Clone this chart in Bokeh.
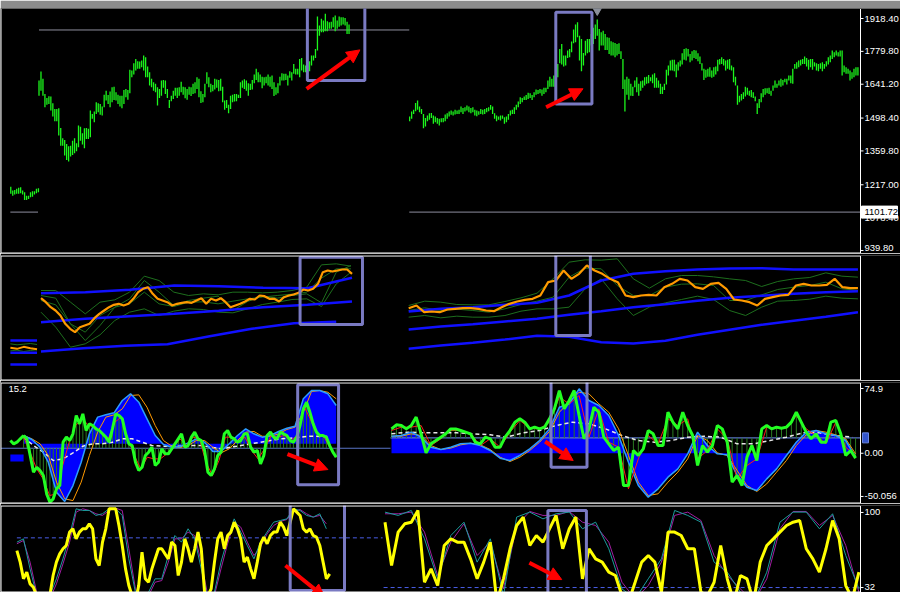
import numpy as np
from bokeh.plotting import figure
from bokeh.layouts import column
from bokeh.models import Range1d, Arrow, NormalHead, Label
from bokeh.embed import file_html
from bokeh.resources import INLINE

# ---------------- DATA (x unit = bar index) ----------------
# Panel 1 : price bars (high / low)
LEFT_START = 19.5
LEFT_HIGH = [1657,1695,1664,1600,1583,1590,1589,1561,1537,1537,
             1540,1457,1413,1406,1389,1380,1382,1403,1413,1392,
             1467,1462,1434,1455,1457,1453,1530,1516,1526,1565,
             1561,1558,1547,1597,1614,1596,1610,1628,1631,1607,
             1597,1593,1593,1617,1621,1617,1702,1699,1730,1748,
             1738,1737,1741,1762,1755,1716,1692,1664,1650,1643,
             1628,1621,1657,1659,1657,1621,1575,1593,1614,1626,
             1626,1628,1652,1631,1628,1621,1631,1628,1643,1650,
             1671,1664,1612,1600,1643,1692,1671,1643,1638,1664,
             1661,1659,1664,1631,1572,1575,1555,1593,1597,1600,
             1600,1597,1650,1657,1662,1657,1645,1643,1659,1682,
             1706,1692,1682,1673,1671,1673,1682,1673,1678,1650,
             1628,1645,1673,1687,1685,1685,1678,1696,1692,1727,
             1706,1706,1748,1752,1724,1720,1734,1738,1762,1762,
             1790,1927,1889,1917,1910,1938,1907,1903,1905,1924,
             1931,1910,1927,1924,1924,1921,1905,1893]
LEFT_LOW = [1593,1614,1593,1544,1555,1558,1530,1505,1485,1485,
            1425,1382,1382,1340,1322,1315,1336,1343,1350,1358,
            1375,1403,1387,1371,1410,1410,1417,1495,1481,1516,
            1523,1512,1509,1544,1572,1558,1544,1565,1575,1572,
            1558,1547,1540,1558,1586,1576,1603,1671,1682,1699,
            1706,1706,1713,1699,1671,1671,1636,1628,1614,1607,
            1551,1583,1593,1626,1600,1583,1541,1569,1579,1593,
            1583,1593,1607,1597,1582,1576,1597,1591,1600,1603,
            1621,1586,1562,1565,1586,1643,1628,1607,1612,1619,
            1626,1612,1614,1565,1533,1541,1519,1537,1565,1568,
            1569,1583,1583,1626,1621,1614,1593,1617,1619,1645,
            1659,1650,1650,1624,1636,1645,1636,1631,1621,1591,
            1597,1603,1636,1657,1657,1659,1636,1668,1657,1685,
            1682,1682,1671,1699,1692,1692,1713,1696,1720,1741,
            1752,1783,1846,1860,1860,1865,1865,1875,1875,1882,
            1865,1875,1884,1889,1893,1889,1853,1853]
RIGHT_START = 207.2
RIGHT_HIGH = [1505,1526,1533,1562,1572,1547,1537,1516,1499,1509,
              1519,1520,1509,1505,1499,1495,1498,1499,1513,1519,
              1526,1530,1526,1534,1530,1534,1547,1541,1544,1551,
              1547,1541,1544,1533,1530,1527,1537,1533,1537,1541,
              1544,1554,1547,1519,1509,1505,1509,1509,1502,1505,
              1516,1530,1534,1544,1555,1568,1586,1583,1589,1596,
              1605,1603,1596,1607,1619,1617,1621,1619,1626,1626,
              1657,1673,1664,1678,1682,1727,1790,1811,1762,1762,
              1783,1790,1821,1872,1893,1903,1846,1832,1773,1825,
              1832,1832,1853,1879,1893,1914,1874,1860,1867,1853,
              1839,1837,1822,1818,1815,1811,1814,1780,1748,1661,
              1673,1664,1643,1631,1657,1671,1643,1654,1657,1671,
              1673,1680,1671,1682,1687,1668,1657,1643,1631,1643,
              1702,1720,1741,1744,1744,1724,1734,1741,1772,1790,
              1793,1790,1769,1780,1786,1783,1772,1758,1730,1706,
              1702,1706,1713,1699,1713,1716,1744,1748,1755,1748,
              1741,1744,1748,1720,1713,1673,1636,1593,1600,1607,
              1631,1626,1614,1617,1607,1589,1561,1579,1603,1621,
              1624,1624,1626,1614,1636,1657,1643,1657,1664,1659,
              1664,1664,1678,1678,1706,1727,1734,1741,1744,1748,
              1758,1752,1744,1748,1748,1734,1730,1727,1730,1734,
              1727,1738,1755,1762,1783,1776,1783,1776,1783,1783,
              1720,1713,1706,1699,1692,1706,1713,1713]
RIGHT_LOW = [1485,1495,1516,1527,1533,1523,1516,1455,1463,1485,
             1491,1499,1474,1481,1474,1467,1481,1481,1485,1495,
             1505,1512,1509,1513,1516,1516,1523,1516,1526,1530,
             1523,1519,1523,1509,1506,1512,1516,1513,1516,1523,
             1527,1533,1516,1495,1485,1491,1488,1495,1474,1481,
             1491,1509,1516,1516,1533,1544,1558,1565,1575,1575,
             1579,1583,1575,1586,1597,1600,1603,1593,1600,1607,
             1621,1631,1631,1631,1636,1671,1730,1724,1716,1720,
             1752,1755,1776,1814,1818,1839,1741,1696,1720,1762,
             1772,1776,1804,1811,1832,1846,1783,1804,1804,1786,
             1786,1769,1762,1762,1755,1762,1769,1748,1621,1526,
             1597,1576,1593,1591,1628,1607,1593,1614,1626,1636,
             1643,1645,1654,1645,1626,1626,1626,1600,1600,1617,
             1640,1678,1699,1699,1696,1671,1699,1716,1724,1744,
             1741,1758,1734,1741,1752,1748,1738,1727,1699,1659,
             1668,1673,1673,1668,1673,1682,1696,1724,1727,1720,
             1699,1706,1702,1699,1650,1636,1555,1565,1572,1579,
             1589,1597,1593,1586,1583,1569,1516,1541,1565,1586,
             1597,1603,1600,1593,1614,1626,1626,1636,1631,1636,
             1650,1640,1657,1645,1643,1706,1706,1713,1720,1727,
             1727,1716,1702,1713,1702,1716,1699,1696,1706,1696,
             1706,1716,1724,1734,1748,1755,1762,1758,1758,1678,
             1692,1685,1685,1657,1664,1671,1678,1678]
CHUNK_START = 5.2
CHUNK_HIGH = [1209,1193,1195,1200,1204,1207,1193,1186,1171,1171,1186,1190,1190,1200,1202]
CHUNK_LOW = [1179,1171,1176,1179,1179,1181,1176,1153,1153,1157,1164,1167,1176,1181,1186]
P1_TICKS = [939.8, 1078.4, 1217.0, 1359.8, 1498.4, 1641.2, 1779.8, 1918.4]
P1_LABELS = ["939.80", "1078.40", "1217.00", "1359.80", "1498.40", "1641.20", "1779.80", "1918.40"]
LEVEL_TOP = 1870.0
LEVEL_CUR = 1101.72
LEVEL_CUR_LABEL = "1101.72"

# Panel 2 : envelope indicator (arbitrary units)
P2L_ORANGE = [262,250,235,225,210,185,170,160,175,180,185,202,215,225,235,242,245,240,245,260,
              280,290,295,275,260,255,250,240,245,248,250,248,255,262,245,260,255,262,250,235,
              240,245,252,260,258,270,268,260,260,252,265,270,273,278,288,285,290,305,340,345,
              342,345,348,348,335]
P2L_UP = [285,285,250,215,250,257,280,328,315,280,270,275,272,280,280,278,280,285,295,362,365,358]
P2L_LO = [220,175,115,125,152,195,220,230,210,223,230,228,220,218,230,243,250,258,260,237,305,340]
P2L_M1 = [255,242,185,160,210,235,245,280,245,237,250,251,245,253,260,265,270,274,280,322,350,350]
P2L_M2 = [270,262,185,135,180,235,260,315,280,240,255,262,268,225,252,268,262,270,275,248,340,360]
P2L_BTOP = [277,280,287,300,298,293,292,323]
P2L_BMID = [190,200,208,215,224,235,242,252]
P2L_BLOW = [102,112,119,124,148,170,187,191]
P2R_ORANGE = [232,240,220,222,220,228,230,232,232,230,225,223,235,245,252,257,260,270,310,315,
              345,320,335,360,345,335,320,310,270,265,270,272,270,295,305,320,315,295,290,305,
              308,290,258,255,250,240,260,265,270,272,300,305,300,300,302,320,295,292,292]
P2R_UP = [240,253,250,243,242,242,252,263,277,320,370,377,376,380,320,292,320,330,330,326,
          320,315,297,312,320,324,338,328,325]
P2R_LO = [205,210,203,208,205,205,210,223,230,230,235,290,320,260,210,235,248,258,268,258,
          225,210,235,253,255,259,268,262,260]
P2R_MID = [225,233,225,229,225,220,230,243,253,265,325,352,350,300,270,270,295,304,305,300,
           255,255,272,288,295,300,310,290,285]
P2R_BTOP = [222,230,235,242,248,270,315,335,343,348,351,352,348,348,348]
P2R_BMID = [168,177,184,192,200,212,223,235,244,254,263,269,275,280,283]
P2R_BLOW = [110,120,128,138,149,146,130,126,134,152,167,182,194,206,220]
P2C_BLUE = [135, 98, 63]
P2C_ORANGE = [113,110,116,112,109]
P2C_GREEN_A = [125,122,124,126,123]
P2C_GREEN_B = [104,106,102,105,107]

# Panel 3 : MACD-like oscillator
P3L_GREEN = [20.5,16.7,-2.6,-21.9,-16.2,-20.0,-25.8,-47.0,-56.7,-52.8,
             -41.2,-37.4,12.8,18.6,14.7,22.5,43.7,34.0,45.6,26.3,
             34.0,32.1,28.2,26.3,22.5,18.6,12.8,28.2,45.6,43.7,
             39.8,22.5,10.9,8.9,-10.4,-20.0,-16.2,-2.6,1.2,7.0,
             -14.2,-10.4,5.1,-0.7,-0.7,5.1,10.9,16.7,22.5,7.0,
             8.9,18.6,24.4,16.7,14.7,3.2,-21.9,-25.8,-18.1,-2.6,
             1.2,22.5,26.3,18.6,16.7,12.8,14.7,22.5,22.5,7.0,
             1.2,3.2,-12.3,-2.6,20.5,24.4,18.6,16.7,24.4,22.5,
             20.5,14.7,12.8,18.6,32.1,51.4,59.1,47.5,34.0,24.4,
             20.5,20.5,18.6,8.9,1.2,-4.6]
P3L_RED = [18.6,1.2,-18.1,-29.7,-49.0,-47.0,-14.2,12.8,32.1,39.8,
           32.1,30.2,24.4,16.7,36.0,41.8,16.7,-2.6,-18.1,-4.6,
           -6.5,-6.5,-0.7,7.0,16.7,8.9,18.6,16.7,-10.4,-25.8,
           -8.4,18.6,18.6,12.8,18.6,3.2,-6.5,5.1,20.5,18.6,
           20.5,14.7,20.5,55.3,39.8,22.5,20.5,7.0,-4.6]
P3L_CYAN = [20.5,15.9,7.0,-10.4,-45.1,-55.9,-37.4,-10.4,22.5,41.8,44.5,46.8,61.1,68.8,59.1,
            39.8,20.5,10.1,7.0,7.4,12.0,16.7,12.8,2.0,2.0,10.9,20.5,28.2,22.5,18.6,20.5,25.2,
            29.0,31.3,63.0,72.6,72.6,68.8,55.3]
P3L_ORANGE = [20.5,16.7,10.9,-2.6,-33.5,-52.8,-54.8,-33.5,-2.6,24.4,41.8,44.5,51.4,66.8,67.6,
              53.3,32.1,14.7,8.2,6.6,8.9,14.7,14.7,7.0,0.4,5.1,14.7,24.4,25.2,19.7,19.4,22.5,
              27.5,30.2,47.5,71.5,72.6,70.6,63.0]
P3L_SIGNAL = [18.6,8.9,1.2,-8.4,-6.5,0.4,8.2,10.9,10.9,12.8,16.7,16.7,12.8,8.9,8.2,8.2,8.2,
              8.9,8.9,7.0,5.1,7.0,8.9,10.9,12.8,14.7,16.7,17.4,18.6,19.8,19.4,19.4]
P3L_BASE = 10.9
P3L_LEVEL = 5.8
P3R_CYAN = [19.7,20.5,24.4,18.6,7.0,4.3,7.0,10.9,11.6,8.9,3.2,-5.7,-8.4,-2.6,5.1,14.7,28.2,
            53.3,57.2,74.6,61.1,55.3,43.7,20.5,-10.4,-37.4,-50.9,-41.2,-27.7,-18.1,-0.7,24.4,
            8.9,-0.7,-1.9,-25.8,-39.3,-43.2,-29.7,-18.1,-2.6,12.8,24.4,26.3,22.5,20.5,14.7,-4.6]
P3R_ORANGE = [19.7,19.7,22.5,20.5,8.9,4.3,5.9,9.7,11.6,9.7,4.3,-4.6,-9.6,-4.6,3.2,12.8,25.2,
              47.5,59.1,70.7,68.8,57.2,47.5,28.2,-2.6,-33.5,-49.0,-47.0,-33.5,-21.9,-6.5,20.5,
              14.7,0.4,-2.6,-20.0,-37.4,-44.3,-35.5,-21.9,-8.4,8.9,21.3,26.3,24.4,21.3,16.7,-0.7]
P3R_GREEN = [28.2,32.9,32.1,28.2,32.1,41.8,22.5,0.4,10.9,14.7,18.6,22.5,28.2,28.2,26.3,24.4,
             22.5,12.8,10.9,18.6,16.7,7.0,7.0,18.6,26.3,36.0,39.8,36.0,28.2,30.2,28.2,30.2,
             39.8,51.4,72.6,51.4,61.1,72.6,43.7,16.7,28.2,53.3,47.5,18.6,10.9,3.2,7.0,-37.4,
             -37.4,3.2,-2.6,5.1,26.3,22.5,8.9,8.9,47.5,36.0,28.2,47.5,32.1,20.5,-14.2,8.9,1.2,
             8.9,32.1,28.2,12.8,-33.5,-25.8,-37.4,-4.6,8.9,-8.4,28.2,32.1,28.2,30.2,29.0,30.2,
             36.0,47.5,36.0,24.4,16.7,22.5,12.8,12.8,36.0,37.9,22.5,-2.6,3.2,-5.7]
P3R_RED = [26.3,30.2,30.2,32.1,8.9,16.7,26.3,26.3,22.5,8.9,16.7,7.0,24.4,37.9,29.0,28.2,36.0,
           64.9,57.2,66.8,18.6,51.4,12.8,7.0,-41.2,-6.5,20.5,10.9,39.8,32.1,39.8,-6.5,3.2,28.2,
           16.7,-29.7,-14.2,-6.5,30.2,29.0,29.0,43.7,28.2,20.5,10.9,36.0,7.0,-2.6]
P3R_SIGNAL = [22.5,24.4,23.6,23.6,23.6,22.5,21.3,18.6,23.6,26.3,32.1,36.0,34.0,28.2,20.5,14.7,
              12.8,14.7,18.6,19.7,18.6,10.9,10.9,14.7,18.6,23.6,23.6,20.5,18.6]
P3R_BASE = 0.0
P3R_LEVEL = 17.8
P3C_GREEN = [14.7,10.9,12.8,16.7,20.5]
P3C_FILL = (-1.5, -9.6)
P3_TICKS = [-50.056, 0.0, 74.9]
P3_LABELS = ["-50.056", "0.00", "74.9"]
P3_CORNER = "15.2"

# Panel 4 : stochastic-like oscillator
P4L_YELLOW = [65.5,55.0,39.9,45.9,35.3,32.3,24.7,18.7,18.7,18.7,24.7,42.9,55.0,62.5,67.1,70.1,
              82.2,85.2,76.1,82.2,85.2,85.2,89.7,85.2,58.0,51.9,73.1,85.2,103.3,103.3,103.3,88.2,
              70.1,48.9,33.8,24.7,18.7,33.8,64.0,39.9,36.8,48.9,58.0,67.1,67.1,62.5,58.0,73.1,
              70.1,42.9,55.0,76.1,67.1,55.0,67.1,82.2,67.1,27.8,24.7,30.8,55.0,76.1,82.2,67.1,
              79.1,82.2,91.2,85.2,76.1,55.0,59.5,48.9,39.9,55.0,71.6,77.6,71.6,79.1,82.2,82.2,
              91.2,86.7,79.1,91.2,103.3,100.3,97.3,85.2,82.2,85.2,79.1,77.6,70.1,55.0,39.9,44.4]
P4L_TEAL = [73.1,76.1,48.9,24.7,18.7,24.7,39.9,58.0,79.1,103.3,101.8,101.8,97.3,98.8,103.3,103.3,
            97.3,58.0,27.8,21.7,27.8,39.9,39.9,61.0,79.1,73.1,85.2,76.1,48.9,21.7,27.8,55.0,
            76.1,94.2,82.2,70.1,58.0,73.1,82.2,91.2,92.7,94.2,103.3,101.8,97.3,95.8,98.8,85.2]
P4L_PURPLE = [71.6,74.6,55.0,27.8,18.1,21.7,35.3,53.4,73.1,100.3,103.3,101.8,98.8,97.3,101.8,
              103.9,101.8,67.1,30.8,20.2,24.7,36.8,38.3,55.0,76.1,76.1,82.2,79.1,55.0,24.7,24.7,
              48.9,71.6,91.2,86.7,73.1,61.0,68.6,80.6,88.2,91.8,93.6,100.3,102.7,98.8,95.8,97.3,89.7]
P4R_YELLOW = [91.2,51.9,82.2,89.7,91.2,101.8,36.8,48.9,33.8,70.1,76.1,73.1,73.1,58.0,39.9,55.0,
              73.1,18.7,39.9,67.1,88.2,95.8,70.1,79.1,73.1,85.2,97.3,67.1,85.2,95.8,39.9,67.1,
              58.0,55.0,45.9,42.9,24.7,18.7,36.8,55.0,61.0,55.0,27.8,82.2,82.2,79.1,67.1,67.1,
              27.8,24.7,36.8,70.1,39.9,18.7,42.9,39.9,18.7,55.0,70.1,76.1,82.2,88.2,91.2,92.7,
              67.1,58.0,45.9,67.1,92.7,76.1,33.8,21.7,45.9]
P4R_TEAL = [100.3,97.3,101.8,76.1,39.9,79.1,91.2,55.0,76.1,24.7,95.8,100.3,94.2,98.8,100.3,85.2,
            91.2,67.1,30.8,21.7,39.9,58.0,101.8,97.3,91.2,55.0,45.9,27.8,18.7,45.9,91.2,100.3,
            100.3,85.2,98.8,61.0,30.8]
P4R_PURPLE = [98.8,98.8,100.3,82.2,42.9,73.1,89.7,61.0,73.1,30.8,88.2,100.9,97.3,97.3,100.9,91.2,
              88.2,73.1,36.8,21.7,33.8,55.0,97.3,100.3,92.7,61.0,42.9,30.8,18.7,39.9,85.2,100.9,
              100.9,88.2,97.3,70.1,27.8]
P4L_LEVEL = 77.0
P4R_LEVEL = 32.0
P4_TICKS = [32.0, 100.0]
P4_LABELS = ["32", "100"]

# Annotations: highlight boxes (x0, x1, y0, y1) and arrows (x0, y0, x1, y1)
BOXES = {
    1: [(155.4, 184.5, 1657, 1969), (281.2, 299.5, 1558, 1945)],
    2: [(151.7, 183.3, 183, 385), (281.2, 298.7, 150, 393)],
    3: [(150.5, 171.2, -36.6, 79.2), (278.8, 297.0, -16.2, 85.4)],
    4: [(146.7, 174.2, 29.3, 113.0), (277.2, 296.7, 24.1, 101.8)],
}
ARROWS = {
    1: [(155.0, 1622, 182.0, 1786), (276.3, 1544, 295.0, 1622)],
    3: [(145.3, -1.1, 165.8, -18.9), (275.8, 13.6, 290.0, -8.4)],
    4: [(144.3, 51.9, 164.2, 23.2), (267.8, 54.4, 284.2, 39.2)],
}

# ---------------- STYLE / LAYOUT ----------------
W = 900
FRAME_W = 860                      # px used by the chart area, rest is the price scale
AX_X = 435.5                       # last bar slot (x of the price-scale line)
XR = (0, AX_X * W / FRAME_W)
PXU = XR[1] / W                    # x data units per pixel
FONT = "Liberation Sans"
FSIZE = "9.5px"
GREEN_BAR = "#1cf51c"
ORANGE = "#ff9a00"
DKGREEN = "#1d6e1d"
BLUE = "#1010ff"
LIME = "#22ff22"
RED = "#ff1a1a"
CYAN = "#2c9cff"
HIST = "#2a7a22"
HLINE = "#5a74c6"
YELLOW = "#ffff00"
TEAL = "#1b9c9c"
PURPLE = "#a01ea0"
DASHBLUE = "#4a5ee8"
GRAY = "#8e8e9e"
BOX = "#7a7ac2"


def make_fig(h, yr, top, border="black"):
    p = figure(width=W, height=h, x_range=Range1d(*XR), y_range=Range1d(*yr),
               output_backend="svg", toolbar_location=None,
               background_fill_color="black", border_fill_color=border,
               outline_line_color=None,
               x_axis_location=None, y_axis_location=None,
               min_border_left=0, min_border_right=0, min_border_top=top,
               min_border_bottom=0)
    p.xgrid.visible = False
    p.ygrid.visible = False
    return p, h - top


def label(p, x, y, text, color="white", **kw):
    p.add_layout(Label(x=x, y=y, text=text, text_color=color, text_font=FONT,
                       text_font_size=FSIZE, text_baseline="middle", text_align="left", **kw))


def frame_and_scale(p, fh, ticks, labels, draw_top=True):
    yr = (p.y_range.start, p.y_range.end)
    dy = (yr[1] - yr[0]) / fh
    y0, y1 = yr[0] + 0.5 * dy, yr[1] - 0.5 * dy
    x0 = 0.5 * PXU
    xs0, ys0, xs1, ys1 = [x0, x0, AX_X], [y0, y0, y0], [x0, AX_X, AX_X], [y1, y0, y1]
    if draw_top:
        xs0.append(x0); ys0.append(y1); xs1.append(AX_X); ys1.append(y1)
    p.segment(x0=xs0, y0=ys0, x1=xs1, y1=ys1, line_color="white", line_width=1)
    if ticks:
        p.segment(x0=AX_X, y0=ticks, x1=AX_X + 3 * PXU, y1=ticks, line_color="white", line_width=1)
        for t, s in zip(ticks, labels):
            ly = min(max(t, yr[0] + 6 * dy), yr[1] - 6 * dy)
            label(p, AX_X, ly, s, x_offset=4)


def line(p, x0, x1, vals, **kw):
    x = np.linspace(x0, x1, len(vals))
    return p.line(x, vals, **kw)


def bars(p, start, hi, lo, color):
    x = start + np.arange(len(hi))
    p.segment(x0=x, y0=lo, x1=x, y1=hi, line_color=color, line_width=1.3)


def annotate(p, n):
    for (x0, x1, y0, y1) in BOXES.get(n, []):
        p.quad(left=x0, right=x1, bottom=y0, top=y1, fill_color=None,
               line_color=BOX, line_width=3)
    for (xa, ya, xb, yb) in ARROWS.get(n, []):
        p.add_layout(Arrow(end=NormalHead(size=13, fill_color="#ff0000", line_color="#ff0000"),
                           x_start=xa, y_start=ya, x_end=xb, y_end=yb,
                           line_color="#ff0000", line_width=4))


# ---------------- PANEL 1 ----------------
p1, fh1 = make_fig(253, (927.1, 1960.6), 8, border="#8c8c8c")
p1.segment(x0=[LEFT_START], y0=[LEVEL_TOP], x1=[RIGHT_START - 0.2], y1=[LEVEL_TOP],
           line_color=GRAY, line_width=1)
p1.segment(x0=[CHUNK_START - 0.2, RIGHT_START - 0.2], y0=[LEVEL_CUR, LEVEL_CUR],
           x1=[LEFT_START - 0.5, AX_X], y1=[LEVEL_CUR, LEVEL_CUR],
           line_color=GRAY, line_width=1)
bars(p1, CHUNK_START, CHUNK_HIGH, CHUNK_LOW, GREEN_BAR)
bars(p1, LEFT_START, LEFT_HIGH, LEFT_LOW, GREEN_BAR)
bars(p1, RIGHT_START, RIGHT_HIGH, RIGHT_LOW, GREEN_BAR)
peak_i = int(np.argmax(RIGHT_HIGH))
p1.scatter([RIGHT_START + peak_i], [1953], marker="inverted_triangle", size=9,
           fill_color="#8a8f9a", line_color="#8a8f9a")
annotate(p1, 1)
frame_and_scale(p1, fh1, P1_TICKS, P1_LABELS, draw_top=False)
# current price tag on the scale
p1.rect(x=[AX_X + 19 * PXU], y=[LEVEL_CUR], width=36, height=12, width_units="screen",
        height_units="screen", fill_color="white", line_color="white")
label(p1, AX_X, LEVEL_CUR, LEVEL_CUR_LABEL, color="black", x_offset=4)

# ---------------- PANEL 2 ----------------
p2, fh2 = make_fig(127, (15, 390), 2)
for vals in (P2L_UP, P2L_LO, P2L_M1, P2L_M2):
    line(p2, 20.5, 177.5, vals, line_color=DKGREEN, line_width=1)
for vals in (P2R_UP, P2R_LO, P2R_MID):
    line(p2, 206.7, 434.2, vals, line_color=DKGREEN, line_width=1)
line(p2, 5, 18.5, P2C_GREEN_A, line_color=DKGREEN, line_width=1)
line(p2, 5, 18.5, P2C_GREEN_B, line_color=DKGREEN, line_width=1)
line(p2, 20.5, 178, P2L_BTOP, line_color=BLUE, line_width=2.5)
line(p2, 20.5, 178, P2L_BMID, line_color=BLUE, line_width=2.5)
line(p2, 20.5, 170, P2L_BLOW, line_color=BLUE, line_width=2.5)
for vals in (P2R_BTOP, P2R_BMID, P2R_BLOW):
    line(p2, 206.7, 434.2, vals, line_color=BLUE, line_width=2.5)
for v in P2C_BLUE:
    p2.line([5, 18.5], [v, v], line_color=BLUE, line_width=2.5)
line(p2, 5, 18.5, P2C_ORANGE, line_color=ORANGE, line_width=2)
line(p2, 20.5, 178, P2L_ORANGE, line_color=ORANGE, line_width=2.2)
line(p2, 206.7, 434.2, P2R_ORANGE, line_color=ORANGE, line_width=2.2)
annotate(p2, 2)
frame_and_scale(p2, fh2, [], [])

# ---------------- PANEL 3 ----------------
p3, fh3 = make_fig(123, (-58.2, 81.9), 2)
xcl = np.linspace(11.7, 170, len(P3L_CYAN))
xcr = np.linspace(198, 433, len(P3R_CYAN))
p3.varea(x=xcl, y1=P3L_CYAN, y2=P3L_BASE, fill_color="#0000ff")
p3.varea(x=xcr, y1=P3R_CYAN, y2=P3R_BASE, fill_color="#0000ff")
p3.varea(x=[5, 11.7], y1=[P3C_FILL[0]] * 2, y2=[P3C_FILL[1]] * 2, fill_color="#0000ff")
p3.line([0, 197.5], [P3L_LEVEL, P3L_LEVEL], line_color=HLINE, line_width=1.2)
p3.line([197.5, AX_X], [P3R_LEVEL, P3R_LEVEL], line_color=HLINE, line_width=1.2)
xgl = np.linspace(11.7, 170, len(P3L_GREEN))
xgr = np.linspace(198, 433, len(P3R_GREEN))
p3.segment(x0=xgl, y0=P3L_LEVEL, x1=xgl, y1=P3L_GREEN, line_color=HIST, line_width=1)
p3.segment(x0=xgr, y0=P3R_LEVEL, x1=xgr, y1=P3R_GREEN, line_color=HIST, line_width=1)
line(p3, 11.7, 166.7, P3L_SIGNAL, line_color="#e8e8e8", line_width=1.5, line_dash="4 3")
line(p3, 198, 431.3, P3R_SIGNAL, line_color="#e8e8e8", line_width=1.5, line_dash="4 3")
line(p3, 11.7, 170, P3L_ORANGE, line_color=ORANGE, line_width=1)
line(p3, 198, 433, P3R_ORANGE, line_color=ORANGE, line_width=1)
line(p3, 11.7, 170, P3L_CYAN, line_color=CYAN, line_width=1.5)
line(p3, 198, 433, P3R_CYAN, line_color=CYAN, line_width=1.5)
line(p3, 11.7, 170, P3L_RED, line_color=RED, line_width=1)
line(p3, 198, 433, P3R_RED, line_color=RED, line_width=1)
line(p3, 5, 11.7, P3C_GREEN, line_color=LIME, line_width=3)
line(p3, 11.7, 170, P3L_GREEN, line_color=LIME, line_width=3)
line(p3, 198, 433, P3R_GREEN, line_color=LIME, line_width=3)
annotate(p3, 3)
frame_and_scale(p3, fh3, P3_TICKS, P3_LABELS)
label(p3, 4, 73.8, P3_CORNER)
p3.rect(x=[AX_X + 5 * PXU], y=[P3R_LEVEL], width=6, height=10, width_units="screen",
        height_units="screen", fill_color="#3355cc", line_color="#6a86e0")

# ---------------- PANEL 4 ----------------
p4, fh4 = make_fig(89, (27.5, 106.3), 2)
p4.line([8.3, 193.5], [P4L_LEVEL, P4L_LEVEL], line_color=DASHBLUE, line_width=1, line_dash="4 3")
p4.line([194, AX_X], [P4R_LEVEL, P4R_LEVEL], line_color=DASHBLUE, line_width=1, line_dash="4 3")
line(p4, 8.3, 165, P4L_PURPLE, line_color=PURPLE, line_width=1)
line(p4, 8.3, 165, P4L_TEAL, line_color=TEAL, line_width=1)
line(p4, 194.7, 434.7, P4R_PURPLE, line_color=PURPLE, line_width=1)
line(p4, 194.7, 434.7, P4R_TEAL, line_color=TEAL, line_width=1)
line(p4, 8.3, 166.7, P4L_YELLOW, line_color=YELLOW, line_width=3)
line(p4, 194.7, 434.7, P4R_YELLOW, line_color=YELLOW, line_width=3)
annotate(p4, 4)
frame_and_scale(p4, fh4, P4_TICKS, P4_LABELS)

layout = column(p1, p2, p3, p4, spacing=0)
open("out.html", "w").write(file_html(layout, INLINE))
